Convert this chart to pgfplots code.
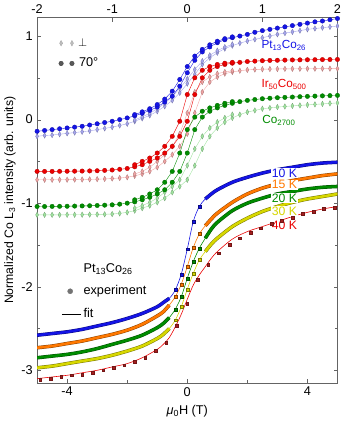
\documentclass[border=0pt]{standalone}
\usepackage{pgfplots}
\pgfplotsset{compat=1.18}
\usepackage{pgfplotstable}
\usepackage{fontspec}
\setmainfont{Liberation Sans}

\definecolor{cblue}{RGB}{20,20,230}
\definecolor{lblue}{RGB}{165,165,238}
\definecolor{cred}{RGB}{235,0,0}
\definecolor{lred}{RGB}{242,165,165}
\definecolor{cgreen}{RGB}{0,140,0}
\definecolor{lgreen}{RGB}{160,228,160}
\definecolor{corange}{RGB}{255,120,0}
\definecolor{cyellow}{RGB}{215,215,0}
\definecolor{cdred}{RGB}{165,30,30}
\definecolor{axgray}{RGB}{100,100,100}

% upper loops (top axis, -2..2 T): ascending branch
\pgfplotstableread{
x b70 bp r70 rp g70 gp
-2.0 -0.140 -0.200 -0.620 -0.720 -1.040 -1.140
-1.9 -0.130 -0.190 -0.620 -0.720 -1.040 -1.140
-1.8 -0.120 -0.185 -0.620 -0.720 -1.039 -1.140
-1.7 -0.110 -0.175 -0.619 -0.720 -1.038 -1.140
-1.6 -0.100 -0.165 -0.618 -0.719 -1.037 -1.139
-1.5 -0.090 -0.155 -0.617 -0.718 -1.035 -1.139
-1.4 -0.080 -0.145 -0.616 -0.717 -1.033 -1.138
-1.3 -0.065 -0.135 -0.614 -0.715 -1.031 -1.137
-1.2 -0.050 -0.120 -0.612 -0.713 -1.028 -1.135
-1.1 -0.035 -0.105 -0.608 -0.710 -1.024 -1.133
-1.0 -0.020 -0.090 -0.603 -0.705 -1.020 -1.130
-0.9 0.000 -0.070 -0.595 -0.699 -1.012 -1.122
-0.8 0.020 -0.050 -0.585 -0.690 -1.000 -1.110
-0.7 0.045 -0.020 -0.565 -0.673 -0.985 -1.090
-0.6 0.075 0.015 -0.540 -0.650 -0.960 -1.060
-0.5 0.110 0.050 -0.500 -0.620 -0.930 -1.030
-0.4 0.150 0.100 -0.460 -0.570 -0.890 -0.990
-0.3 0.210 0.160 -0.400 -0.500 -0.840 -0.940
-0.2 0.280 0.230 -0.320 -0.420 -0.750 -0.870
-0.1 0.400 0.320 -0.200 -0.320 -0.620 -0.800
0.0 0.560 0.430 -0.020 -0.170 -0.400 -0.720
0.1 0.710 0.540 0.300 0.080 -0.120 -0.550
0.2 0.810 0.660 0.500 0.330 0.030 -0.350
0.3 0.870 0.740 0.590 0.450 0.100 -0.200
0.4 0.920 0.800 0.635 0.510 0.140 -0.100
0.5 0.955 0.850 0.660 0.550 0.170 -0.030
0.6 0.980 0.885 0.675 0.570 0.195 0.020
0.7 1.000 0.915 0.685 0.585 0.215 0.060
0.8 1.020 0.940 0.695 0.595 0.230 0.090
0.9 1.045 0.960 0.700 0.600 0.240 0.110
1.0 1.065 0.980 0.705 0.603 0.250 0.130
1.1 1.080 1.000 0.708 0.605 0.256 0.140
1.2 1.095 1.020 0.710 0.606 0.262 0.150
1.3 1.110 1.035 0.712 0.607 0.266 0.157
1.4 1.125 1.050 0.714 0.608 0.270 0.164
1.5 1.140 1.065 0.715 0.608 0.274 0.170
1.6 1.155 1.080 0.716 0.609 0.278 0.176
1.7 1.170 1.090 0.717 0.609 0.281 0.182
1.8 1.180 1.100 0.718 0.610 0.284 0.188
1.9 1.195 1.110 0.719 0.610 0.287 0.194
2.0 1.210 1.120 0.720 0.610 0.290 0.200
}\uptab

% descending branch, centre part of the loops
\pgfplotstableread{
x b70 bp r70 rp g70 gp
-0.7 0.060 -0.003 -0.540 -0.650 -0.960 -1.060
-0.6 0.093 0.033 -0.500 -0.620 -0.930 -1.030
-0.5 0.130 0.075 -0.460 -0.570 -0.890 -0.990
-0.4 0.180 0.130 -0.400 -0.500 -0.840 -0.940
-0.3 0.245 0.195 -0.320 -0.420 -0.750 -0.870
-0.2 0.340 0.275 -0.200 -0.320 -0.620 -0.800
-0.1 0.480 0.375 -0.020 -0.170 -0.400 -0.720
0.0 0.635 0.485 0.300 0.080 -0.120 -0.550
0.1 0.760 0.600 0.500 0.330 0.030 -0.350
0.2 0.840 0.700 0.590 0.450 0.100 -0.200
0.3 0.895 0.770 0.635 0.510 0.140 -0.100
0.4 0.938 0.825 0.660 0.550 0.170 -0.030
0.5 0.968 0.868 0.675 0.570 0.195 0.020
0.6 0.990 0.900 0.685 0.585 0.215 0.060
}\dntab

% Pt13Co26 temperature series (bottom axis, -5..5 T)
\pgfplotstableread{
x k10 k15 k20 k30 k40
-5.0 -2.58 -2.73 -2.85 -2.97 -3.10
-4.5 -2.56 -2.71 -2.83 -2.95 -3.08
-4.0 -2.54 -2.68 -2.81 -2.92 -3.06
-3.5 -2.51 -2.65 -2.78 -2.89 -3.03
-3.0 -2.47 -2.61 -2.74 -2.86 -3.00
-2.5 -2.43 -2.57 -2.69 -2.82 -2.96
-2.0 -2.38 -2.52 -2.64 -2.77 -2.92
-1.5 -2.32 -2.45 -2.58 -2.71 -2.85
-1.0 -2.24 -2.35 -2.49 -2.62 -2.75
-0.8 -2.19 -2.30 -2.44 -2.57 -2.69
-0.6 -2.14 -2.22 -2.37 -2.50 -2.61
-0.4 -2.04 -2.12 -2.27 -2.40 -2.48
-0.2 -1.85 -1.97 -2.12 -2.24 -2.33
0.0 -1.55 -1.76 -1.90 -2.03 -2.15
0.2 -1.22 -1.53 -1.70 -1.84 -1.98
0.4 -1.04 -1.37 -1.54 -1.68 -1.86
0.6 -0.95 -1.27 -1.42 -1.58 -1.76
0.8 -0.89 -1.19 -1.31 -1.49 -1.66
1.0 -0.84 -1.12 -1.23 -1.42 -1.58
1.5 -0.75 -0.99 -1.09 -1.28 -1.43
2.0 -0.69 -0.89 -1.00 -1.18 -1.34
2.5 -0.64 -0.82 -0.94 -1.10 -1.28
3.0 -0.60 -0.77 -0.89 -1.04 -1.22
3.5 -0.57 -0.73 -0.86 -0.99 -1.16
4.0 -0.54 -0.70 -0.83 -0.95 -1.11
4.5 -0.52 -0.67 -0.81 -0.92 -1.07
5.0 -0.51 -0.65 -0.80 -0.89 -1.04
}\lowtab

% 40 K measured points
\pgfplotstableread{
x y
-4.90 -3.11
-4.55 -3.10
-4.20 -3.08
-3.85 -3.06
-3.50 -3.05
-3.15 -3.03
-2.80 -3.00
-2.45 -2.97
-2.10 -2.94
-1.75 -2.90
-1.40 -2.85
-1.05 -2.77
-0.70 -2.67
-0.35 -2.47
0.00 -2.20
0.35 -1.92
0.70 -1.74
1.05 -1.60
1.40 -1.50
1.75 -1.42
2.10 -1.35
2.45 -1.30
2.80 -1.25
3.15 -1.21
3.50 -1.17
3.85 -1.13
4.20 -1.10
4.55 -1.07
4.90 -1.05
}\kfortytab

\pgfplotsset{
  common/.style={width=306bp, height=372bp, scale only axis,
    ymin=-3.15, ymax=1.22, tick align=inside,
    axis line style={axgray}, tick style={axgray},
    major tick length=4bp, minor tick length=3bp,
    tick label style={font=\fontsize{13}{15}\selectfont},
    /pgf/number format/assume math mode=true},
  ang/.style={#1, line width=0.4pt, mark=*, mark size=2.3bp,
    mark options={fill=#1, draw=#1!75!black, line width=0.3pt}},
  perp/.style={#1, line width=0.4pt, mark=diamond*, mark size=2bp,
    mark options={fill=#1, draw=#1!70!black, line width=0.3pt, yscale=1.4}},
  band/.style={#1, line width=2.6bp, smooth,
    preaction={draw, #1!55!black, line width=3.6bp}},
  mid/.style={only marks, mark=square*, mark size=1.5bp,
    mark options={fill=#1, draw=#1!55!black, line width=0.3pt}},
  fit/.style={#1, line width=0.6pt, smooth},
  twomarks/.style={legend image code/.code={%
    \draw[##1] plot coordinates {(0.18cm,0cm) (0.57cm,0cm)};}},
  longline/.style={legend image code/.code={%
    \draw[##1] (0cm,0cm) -- (0.7cm,0cm);}},
}
\tikzset{
  lab/.style={anchor=base west, inner sep=0.5bp, text=#1,
    font=\fontsize{12}{14}\selectfont},
  klab/.style={anchor=base west, fill=white, inner sep=1bp, text=#1,
    font=\fontsize{12.5}{14}\selectfont},
}

\begin{document}
\fontsize{13}{15}\selectfont
\begin{tikzpicture}
\begin{axis}[common,
    xmin=-5, xmax=5,
    xtick={-4,0,4}, minor xtick={-2,2}, xtick pos=left,
    ytick={-3,-2,-1,0,1}, minor ytick={-2.5,-1.5,-0.5,0.5},
    xlabel={\textit{μ}\textsubscript{0}H (T)},
    ylabel={Normalized Co L\textsubscript{3} intensity (arb. units)},
    ylabel style={yshift=-3bp, font=\fontsize{12.5}{14}\selectfont},
    legend style={draw=none, fill=none, at={(rel axis cs:0.071,0.339)},
      anchor=north west, row sep=8bp, font=\fontsize{13}{15}\selectfont},
    legend cell align=left,
  ]
  % bands of measured points, 10 K to 30 K
  \addplot[band=cblue, forget plot, restrict x to domain=-5:-0.55] table[y=k10] {\lowtab};
  \addplot[band=cblue, forget plot, restrict x to domain=0.55:5] table[y=k10] {\lowtab};
  \addplot[band=corange, forget plot, restrict x to domain=-5:-0.55] table[y=k15] {\lowtab};
  \addplot[band=corange, forget plot, restrict x to domain=0.55:5] table[y=k15] {\lowtab};
  \addplot[band=cgreen, forget plot, restrict x to domain=-5:-0.55] table[y=k20] {\lowtab};
  \addplot[band=cgreen, forget plot, restrict x to domain=0.55:5] table[y=k20] {\lowtab};
  \addplot[band=cyellow, forget plot, restrict x to domain=-5:-0.55] table[y=k30] {\lowtab};
  \addplot[band=cyellow, forget plot, restrict x to domain=0.55:5] table[y=k30] {\lowtab};
  % fits
  \addplot[fit=cblue, forget plot] table[y=k10] {\lowtab};
  \addplot[fit=corange, forget plot] table[y=k15] {\lowtab};
  \addplot[fit=cgreen, forget plot] table[y=k20] {\lowtab};
  \addplot[fit=cyellow, forget plot] table[y=k30] {\lowtab};
  \addplot[fit=cred, forget plot] table[y=k40] {\lowtab};
  % points near zero field
  \addplot[mid=cblue, forget plot, restrict x to domain=-0.45:0.45] table[y=k10] {\lowtab};
  \addplot[mid=corange, forget plot, restrict x to domain=-0.45:0.45] table[y=k15] {\lowtab};
  \addplot[mid=cgreen, forget plot, restrict x to domain=-0.45:0.45] table[y=k20] {\lowtab};
  \addplot[mid=cyellow, forget plot, restrict x to domain=-0.45:0.45] table[y=k30] {\lowtab};
  \addplot[only marks, mark=square*, mark size=1.4bp, forget plot,
    mark options={fill=cdred, draw=cdred!70!black}] table {\kfortytab};

  \addlegendimage{empty legend}
  \addlegendentry{Pt\textsubscript{13}Co\textsubscript{26}}
  \addlegendimage{only marks, mark=*, mark size=2.6bp, black!55}
  \addlegendentry{experiment}
  \addlegendimage{black, line width=0.6pt, longline}
  \addlegendentry{fit}

  \node[lab=cblue] at (axis cs:2.45,0.85) {Pt\textsubscript{13}Co\textsubscript{26}};
  \node[lab=cred] at (axis cs:2.45,0.38) {Ir\textsubscript{50}Co\textsubscript{500}};
  \node[lab=cgreen] at (axis cs:2.48,-0.05) {Co\textsubscript{2700}};
  \node[klab=cblue] at (axis cs:2.78,-0.69) {10 K};
  \node[klab=corange] at (axis cs:2.78,-0.83) {15 K};
  \node[klab=cgreen] at (axis cs:2.78,-0.99) {20 K};
  \node[klab=cyellow] at (axis cs:2.78,-1.15) {30 K};
  \node[klab=cred] at (axis cs:2.78,-1.32) {40 K};
\end{axis}

\begin{axis}[common,
    xmin=-2, xmax=2,
    axis x line*=top, hide y axis,
    xtick={-2,-1,0,1,2},
    legend style={draw=none, fill=none, at={(rel axis cs:0.062,0.955)},
      anchor=north west, row sep=6bp, font=\fontsize{13}{15}\selectfont},
    legend cell align=left,
  ]
  % perpendicular geometry
  \addplot[perp=lblue, forget plot] table[y=bp] {\uptab};
  \addplot[perp=lblue, forget plot] table[y=bp] {\dntab};
  \addplot[perp=lred, forget plot] table[y=rp] {\uptab};
  \addplot[perp=lred, forget plot] table[y=rp] {\dntab};
  \addplot[perp=lgreen, forget plot] table[y=gp] {\uptab};
  \addplot[perp=lgreen, forget plot] table[y=gp] {\dntab};
  % 70 degree geometry
  \addplot[ang=cblue, forget plot] table[y=b70] {\uptab};
  \addplot[ang=cblue, forget plot] table[y=b70] {\dntab};
  \addplot[ang=cred, forget plot] table[y=r70] {\uptab};
  \addplot[ang=cred, forget plot] table[y=r70] {\dntab};
  \addplot[ang=cgreen, forget plot] table[y=g70] {\uptab};
  \addplot[ang=cgreen, forget plot] table[y=g70] {\dntab};

  \addlegendimage{only marks, mark=diamond*, mark size=2bp,
    mark options={fill=black!25, draw=black!35, yscale=1.4}, twomarks}
  \addlegendentry{\hspace{2bp}$\perp$}
  \addlegendimage{only marks, mark=*, mark size=2.3bp,
    mark options={fill=black!65, draw=black!75}, twomarks}
  \addlegendentry{\hspace{3bp}70°}
\end{axis}
\end{tikzpicture}
\end{document}
